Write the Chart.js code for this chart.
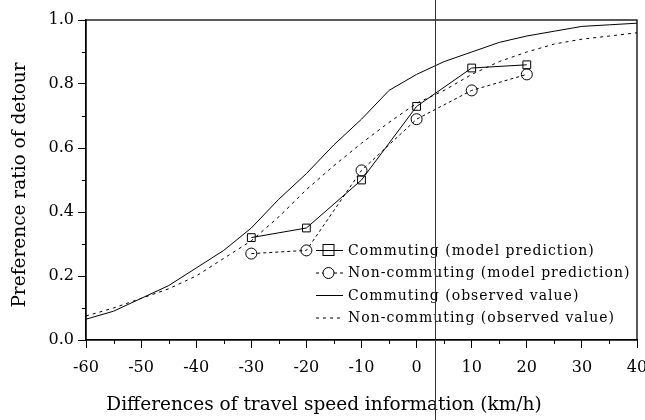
<!DOCTYPE html>
<html>
<head>
<meta charset="utf-8">
<script src="https://cdn.jsdelivr.net/npm/chart.js@4.4.0/dist/chart.umd.min.js"></script>
<style>
  html, body { margin: 0; padding: 0; background: #fff; }
  #wrap { width: 645px; height: 420px; }
</style>
</head>
<body>
<div id="wrap"><canvas id="myChart"></canvas></div>
<script>
// model prediction points
const predX = [-30, -20, -10, 0, 10, 20];
const commPred = [0.32, 0.35, 0.50, 0.73, 0.85, 0.86];
const nonCommPred = [0.27, 0.28, 0.53, 0.69, 0.78, 0.83];

// observed curves
const obsX = [-60, -55, -50, -45, -40, -35, -30, -25, -20, -15, -10, -5, 0, 5, 10, 15, 20, 25, 30, 35, 40];
const commObs = [0.065, 0.09, 0.13, 0.17, 0.225, 0.28, 0.35, 0.44, 0.52, 0.61, 0.69, 0.78, 0.83, 0.87, 0.90, 0.93, 0.95, 0.965, 0.98, 0.985, 0.99];
const nonCommObs = [0.075, 0.10, 0.13, 0.16, 0.20, 0.255, 0.31, 0.385, 0.47, 0.545, 0.615, 0.68, 0.74, 0.78, 0.83, 0.87, 0.90, 0.925, 0.94, 0.95, 0.96];

const seriesLabels = [
    'Commuting (model prediction)',
    'Non-commuting (model prediction)',
    'Commuting (observed value)',
    'Non-commuting (observed value)'
];
const xTitle = 'Differences of travel speed information (km/h)';
const yTitle = 'Preference ratio of detour';

// scanner line seen in the original picture
const scanLineX = 3.4;

const serif = 'DejaVu Serif';

function toPoints(xs, ys) {
    return xs.map((x, i) => ({ x: x, y: ys[i] }));
}

// minor ticks, box frame, axis titles and the scan line
const framePlugin = {
    id: 'frame',
    afterDraw(chart) {
        const ctx = chart.ctx;
        const a = chart.chartArea;
        const xs = chart.scales.x;
        const ys = chart.scales.y;
        ctx.save();
        ctx.strokeStyle = '#000';
        ctx.lineWidth = 1;
        ctx.beginPath();
        for (let v = -55; v < 40; v += 10) {
            const px = Math.round(xs.getPixelForValue(v)) + 0.5;
            ctx.moveTo(px, a.bottom);
            ctx.lineTo(px, a.bottom + 4);
        }
        for (let v = 0.1; v < 1; v += 0.2) {
            const py = Math.round(ys.getPixelForValue(v)) + 0.5;
            ctx.moveTo(a.left - 4, py);
            ctx.lineTo(a.left, py);
        }
        ctx.stroke();
        ctx.lineWidth = 1.3;
        ctx.strokeRect(a.left, a.top, a.right - a.left, a.bottom - a.top);

        // axis titles (the original sits them a bit left of centre)
        ctx.fillStyle = '#000';
        ctx.font = '18.5px "' + serif + '"';
        ctx.textAlign = 'center';
        ctx.textBaseline = 'middle';
        ctx.fillText(xTitle, 324, 405);
        ctx.save();
        ctx.translate(20, 185);
        ctx.rotate(-Math.PI / 2);
        ctx.fillText(yTitle, 0, 0);
        ctx.restore();

        // scan line
        ctx.strokeStyle = '#333';
        ctx.lineWidth = 1;
        const sx = Math.round(xs.getPixelForValue(scanLineX)) + 0.5;
        ctx.beginPath();
        ctx.moveTo(sx, 0);
        ctx.lineTo(sx, chart.height);
        ctx.stroke();
        ctx.restore();
    }
};

// legend drawn like the original: line sample with marker, then text
const legendPlugin = {
    id: 'sampleLegend',
    afterDatasetsDraw(chart) {
        const ctx = chart.ctx;
        const x0 = 316, x1 = 343, tx = 348;
        let y = 250;
        ctx.save();
        ctx.font = '14px "' + serif + '"';
        ctx.letterSpacing = '1px';
        ctx.fillStyle = '#000';
        ctx.textBaseline = 'middle';
        chart.data.datasets.forEach(ds => {
            ctx.strokeStyle = '#000';
            ctx.lineWidth = 1;
            ctx.setLineDash(ds.borderDash || []);
            ctx.beginPath();
            ctx.moveTo(x0, y + 0.5);
            ctx.lineTo(x1, y + 0.5);
            ctx.stroke();
            ctx.setLineDash([]);
            if (ds.pointStyle === 'rect') {
                ctx.strokeRect(323, y - 5.5, 11, 11);
            } else if (ds.pointStyle === 'circle') {
                ctx.beginPath();
                ctx.arc(328.5, y + 0.5, 5.5, 0, Math.PI * 2);
                ctx.fillStyle = '#fff';
                ctx.fill();
                ctx.stroke();
                ctx.fillStyle = '#000';
            }
            ctx.fillText(ds.label, tx, y + 1);
            y += 22.5;
        });
        ctx.restore();
    }
};

new Chart('myChart', {
    type: 'line',
    data: {
        datasets: [{
            label: seriesLabels[0],
            data: toPoints(predX, commPred),
            borderColor: '#000',
            borderWidth: 1,
            pointStyle: 'rect',
            pointRadius: 5.5,
            pointBorderColor: '#000',
            pointBackgroundColor: 'rgba(0,0,0,0)',
            pointBorderWidth: 1,
            tension: 0
        }, {
            label: seriesLabels[1],
            data: toPoints(predX, nonCommPred),
            borderColor: '#000',
            borderWidth: 1,
            borderDash: [3, 3],
            pointStyle: 'circle',
            pointRadius: 5.5,
            pointBorderColor: '#000',
            pointBackgroundColor: 'rgba(0,0,0,0)',
            pointBorderWidth: 1,
            tension: 0
        }, {
            label: seriesLabels[2],
            data: toPoints(obsX, commObs),
            borderColor: '#000',
            borderWidth: 1,
            pointRadius: 0,
            tension: 0
        }, {
            label: seriesLabels[3],
            data: toPoints(obsX, nonCommObs),
            borderColor: '#000',
            borderWidth: 1,
            borderDash: [3, 4],
            pointRadius: 0,
            tension: 0
        }]
    },
    options: {
        responsive: true,
        maintainAspectRatio: false,
        animation: false,
        devicePixelRatio: 1,
        layout: { padding: { top: 20, right: 8, left: 0, bottom: 0 } },
        plugins: {
            legend: { display: false },
            tooltip: { enabled: false }
        },
        scales: {
            x: {
                type: 'linear',
                min: -60,
                max: 40,
                ticks: {
                    stepSize: 10,
                    color: '#000',
                    padding: 10,
                    font: { family: serif, size: 16 }
                },
                grid: { drawOnChartArea: false, tickLength: 8, color: '#000' },
                border: { color: '#000', width: 1.3 },
                afterFit(s) {
                    s.height = 80;
                    s.paddingLeft = 0;
                    s.paddingRight = 0;
                }
            },
            y: {
                min: 0,
                max: 1,
                ticks: {
                    stepSize: 0.2,
                    color: '#000',
                    padding: 4,
                    font: { family: serif, size: 16 },
                    callback: v => v.toFixed(1)
                },
                grid: { drawOnChartArea: false, tickLength: 8, color: '#000' },
                border: { color: '#000', width: 1.3 },
                afterFit(s) {
                    s.width = 86;
                    s.paddingTop = 0;
                    s.paddingBottom = 0;
                }
            }
        }
    },
    plugins: [framePlugin, legendPlugin]
});
</script>
</body>
</html>
